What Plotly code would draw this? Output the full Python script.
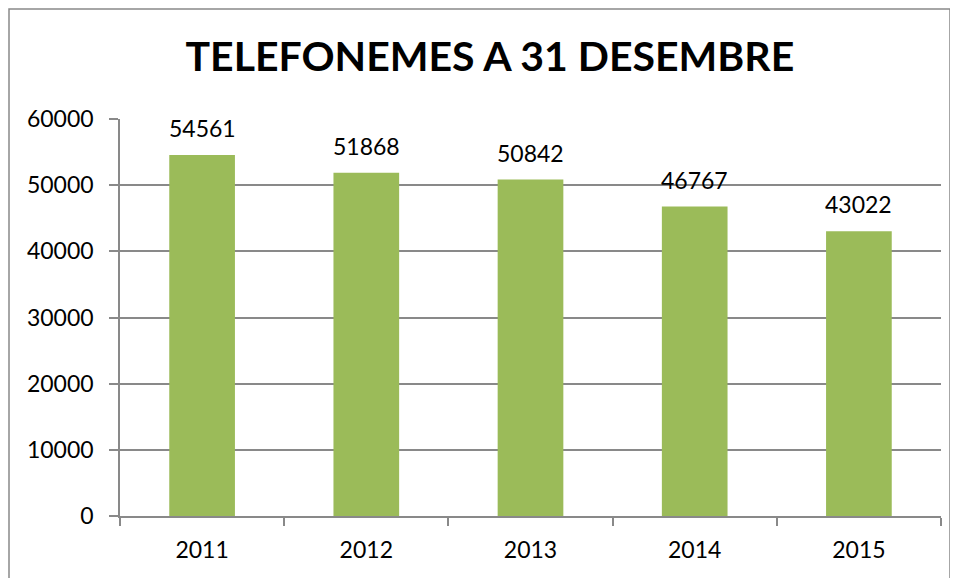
import plotly.graph_objects as go

years = ["2011", "2012", "2013", "2014", "2015"]
values = [54561, 51868, 50842, 46767, 43022]
y_ticks = [0, 10000, 20000, 30000, 40000, 50000, 60000]

BAR = "#9BBB59"
GRID = "#898989"
FONT = "Lato, 'Open Sans', sans-serif"

# page body has an 8px offset; margins compensate so the plot lands where the reference has it
OFF = 8
L, R, T, B = 112, 25, 111, 70
W, H = 958, 578
pw, ph = W - L - R, H - T - B

def px_x(page_x):
    return (page_x - OFF - L) / pw

def px_y(page_y):
    return (H - B - (page_y - OFF)) / ph

fig = go.Figure()
fig.add_trace(go.Bar(x=years, y=values, marker=dict(color=BAR, line=dict(width=0)),
                     hoverinfo="skip"))

for i, v in enumerate(values):
    fig.add_annotation(x=i, y=v, text=str(v), showarrow=False, yanchor="bottom",
                       yshift=11, font=dict(size=23, color="#000000", family=FONT))

# outer chart border
fig.add_shape(type="rect", xref="paper", yref="paper",
              x0=px_x(9), x1=px_x(950), y0=px_y(640), y1=px_y(9),
              line=dict(color=GRID, width=1.5), layer="below")

fig.update_layout(
    width=W, height=H,
    margin=dict(l=L, r=R, t=T, b=B),
    paper_bgcolor="white", plot_bgcolor="white",
    showlegend=False,
    bargap=0.6,
    font=dict(family=FONT, size=23, color="#000000"),
    title=dict(text="<b>TELEFONEMES A 31 DESEMBRE</b>", x=0.503, xanchor="center",
               y=1 - 49 / H, yanchor="middle", font=dict(size=41, family=FONT, color="#000000")),
    xaxis=dict(type="category", range=[-0.5, 4.5], showline=True, linecolor=GRID,
               linewidth=1.5, ticks="outside", tickson="boundaries", ticklen=8,
               tickcolor=GRID, tickwidth=1.5, showgrid=False, tickfont=dict(size=23),
               tickangle=0, automargin=False, ticklabelstandoff=13),
    yaxis=dict(range=[0, 60000], tickvals=y_ticks, ticktext=[str(t) for t in y_ticks],
               showline=True, linecolor=GRID,
               linewidth=1.5, ticks="outside", ticklen=9, tickcolor=GRID, tickwidth=1.5,
               showgrid=True, gridcolor=GRID, gridwidth=1.5, zeroline=False,
               tickfont=dict(size=23), ticklabelstandoff=11, automargin=False),
)

fig.write_html("out.html")
